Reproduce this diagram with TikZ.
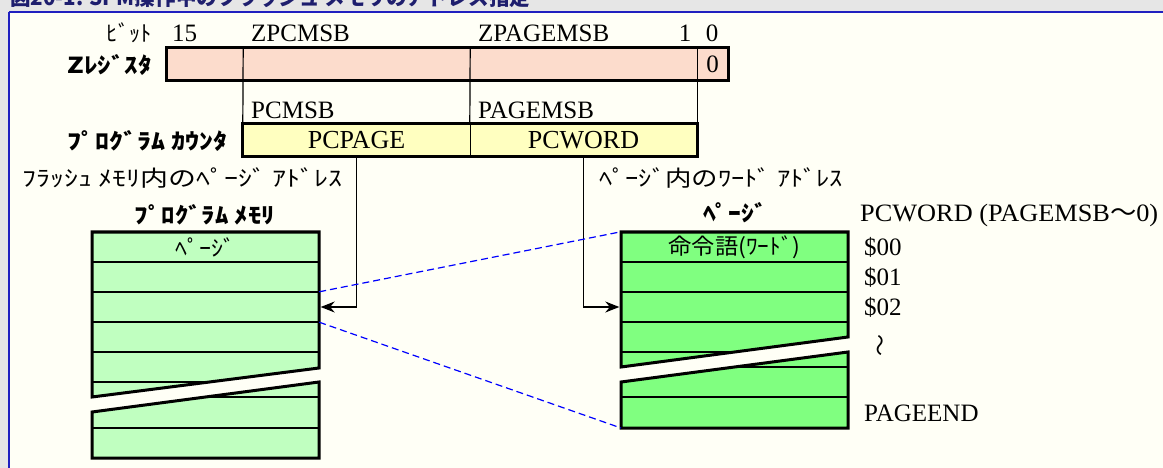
\documentclass[tikz,border=0pt]{standalone}
\usepackage{fontspec}
\usepackage{graphicx}
\setmainfont{Liberation Serif}
\newfontfamily\jp{Noto Sans CJK JP}
\usetikzlibrary{arrows.meta}
\definecolor{bggray}{RGB}{230,230,230}
\definecolor{cream}{RGB}{255,255,246}
\definecolor{frameblue}{RGB}{32,32,192}
\definecolor{titleblue}{RGB}{30,30,110}
\definecolor{zfill}{RGB}{252,220,204}
\definecolor{pcfill}{RGB}{255,255,192}
\definecolor{memfill}{RGB}{192,255,192}
\definecolor{pagefill}{RGB}{128,255,128}
\definecolor{dashblue}{RGB}{0,0,255}
\newcommand\hfit[2]{\resizebox{#1pt}{\height}{#2}}
\begin{document}
\begin{tikzpicture}[x=1pt,y=-1pt,
  lat/.style={font=\fontsize{25}{27}\selectfont, inner sep=0pt},
  latc/.style={font=\fontsize{26}{28}\selectfont, inner sep=0pt},
  jpr/.style={font=\jp\fontsize{22}{24}\selectfont, inner sep=0pt},
  jpb/.style={font=\jp\bfseries\fontsize{22}{24}\selectfont, inner sep=0pt},
  thickbox/.style={line width=3pt, line join=miter},
  thinline/.style={line width=1.2pt},
  cell/.style={draw=none, minimum height=32pt, inner sep=0pt},
  rowa/.style={minimum width=227pt, minimum height=30pt, inner sep=0pt},
  link/.style={line width=1.2pt, -{Stealth[length=14pt,width=11pt]}, shorten >=1.5pt},
  zoomline/.style={dashblue, line width=1.2pt, dash pattern=on 7pt off 4pt},
]
\useasboundingbox (0,0) rectangle (1163,468);
\clip (0,0) rectangle (1163,468);
% background and frame
\fill[bggray] (0,0) rectangle (1163,468);
\fill[cream] (9,12) rectangle (1163,468);
\draw[frameblue, line width=2pt] (9,12) -- (1163,12);
\draw[frameblue, line width=1.2pt] (9,12) -- (9,468);
% title (cut by the top edge, as in the reference)
\node[anchor=base west, font=\jp\bfseries\fontsize{21}{21}\selectfont, text=titleblue, inner sep=0pt] (title) at (10,6) {\hfit{520}{図20-1. SPM操作中のフラッシュ メモリのアドレス指定}};

% bit labels
\node[jpr, anchor=east] (bitl) at (152,33) {\hfit{45}{ﾋﾞｯﾄ}};
\node[lat, anchor=west] (b15) at (172,33) {15};
\node[lat, anchor=west] (bzpc) at (251,33) {ZPCMSB};
\node[lat, anchor=west] (bzpg) at (478,33) {ZPAGEMSB};
\node[lat] (b1) at (685,33) {1};
\node[lat] (b0) at (712,33) {0};

% Z register
\node[jpb, anchor=east] (zlab) at (152,65) {\hfit{84}{Zﾚｼﾞｽﾀ}};
\node[cell, fill=zfill, minimum width=76pt] (z15) at (205,64) {};
\node[cell, fill=zfill, minimum width=227pt] (zpc) at (356.5,64) {};
\node[cell, fill=zfill, minimum width=227pt] (zpg) at (583.5,64) {};
\node[cell, fill=zfill, minimum width=31pt, lat] (z0) at (712.5,64) {0};

% program counter
\node[lat, anchor=west] (pcmsb) at (251,110) {PCMSB};
\node[lat, anchor=west] (pgmsb) at (478,110) {PAGEMSB};
\node[jpb, anchor=east] (pclab) at (228,141) {\hfit{160}{ﾌﾟﾛｸﾞﾗﾑ ｶｳﾝﾀ}};
\node[cell, fill=pcfill, minimum width=227pt, latc] (pcpage) at (356.5,140) {PCPAGE};
\node[cell, fill=pcfill, minimum width=227pt, latc] (pcword) at (583.5,140) {PCWORD};

\draw[thinline] (z15.north east) -- (pcpage.north west);
\draw[thinline] (zpc.north east) -- (pcword.north west);
\draw[thinline] (zpg.north east) -- (pcword.north east);
\draw[thinline] (pcpage.north east) -- (pcpage.south east);
\draw[thickbox] (z15.north west) rectangle (z0.south east);
\draw[thickbox] (pcpage.north west) rectangle (pcword.south east);

% captions
\node[jpr, anchor=west] (flashcap) at (22,178) {\hfit{320}{ﾌﾗｯｼｭ ﾒﾓﾘ内のﾍﾟｰｼﾞ ｱﾄﾞﾚｽ}};
\node[jpr, anchor=west] (wordcap) at (599,178) {\hfit{244}{ﾍﾟｰｼﾞ内のﾜｰﾄﾞ ｱﾄﾞﾚｽ}};
\node[jpb] (memtitle) at (205,215) {\hfit{140}{ﾌﾟﾛｸﾞﾗﾑ ﾒﾓﾘ}};
\node[jpb] (pagetitle) at (735,213) {\hfit{64}{ﾍﾟｰｼﾞ}};

% program memory (broken box)
\begin{scope}
\clip (92,232) -- (319,232) -- (319,368) -- (92,397) -- cycle;
\fill[memfill] (92,232) rectangle (319,400);
\foreach \yy in {262,292,322,352,382} \draw[thinline] (92,\yy) -- (319,\yy);
\end{scope}
\draw[thickbox] (92,232) -- (319,232) -- (319,368) -- (92,397) -- cycle;
\begin{scope}
\clip (92,412) -- (319,382) -- (319,458) -- (92,458) -- cycle;
\fill[memfill] (92,380) rectangle (319,458);
\foreach \yy in {397,428} \draw[thinline] (92,\yy) -- (319,\yy);
\end{scope}
\draw[thickbox] (92,412) -- (319,382) -- (319,458) -- (92,458) -- cycle;
\node[rowa, jpr] (m1) at (205.5,247) {\hfit{60}{ﾍﾟｰｼﾞ}};
\node[rowa] (m3) at (205.5,307) {};

% page (broken box)
\begin{scope}
\clip (621,232) -- (848,232) -- (848,337) -- (621,367) -- cycle;
\fill[pagefill] (621,232) rectangle (848,370);
\foreach \yy in {262,292,322,352} \draw[thinline] (621,\yy) -- (848,\yy);
\end{scope}
\draw[thickbox] (621,232) -- (848,232) -- (848,337) -- (621,367) -- cycle;
\begin{scope}
\clip (621,382) -- (848,352) -- (848,428) -- (621,428) -- cycle;
\fill[pagefill] (621,350) rectangle (848,428);
\foreach \yy in {367,397} \draw[thinline] (621,\yy) -- (848,\yy);
\end{scope}
\draw[thickbox] (621,382) -- (848,352) -- (848,428) -- (621,428) -- cycle;
\node[rowa, jpr] (p1) at (734.5,247) {\hfit{132}{命令語(ﾜｰﾄﾞ)}};
\node[rowa] (p3) at (734.5,307) {};
\coordinate (pbot) at (621,428);

% connectors
\draw[link] (pcpage.south) |- (m3.east);
\draw[link] (pcword.south) |- (p3.west);
\draw[zoomline] (m3.north east) -- (p1.north west);
\draw[zoomline] (m3.south east) -- (pbot);

% word addresses
\node[lat, anchor=west] (pcwl) at (860,215) {\hfit{298}{PCWORD (PAGEMSB{\jp 〜}0)}};
\node[lat, anchor=west] (a00) at (864,247) {\$00};
\node[lat, anchor=west] (a01) at (864,277) {\$01};
\node[lat, anchor=west] (a02) at (864,307) {\$02};
\node[jpr, rotate=90] (wave) at (883,345) {〜};
\node[lat, anchor=west] (aend) at (864,413) {PAGEEND};
\end{tikzpicture}
\end{document}
